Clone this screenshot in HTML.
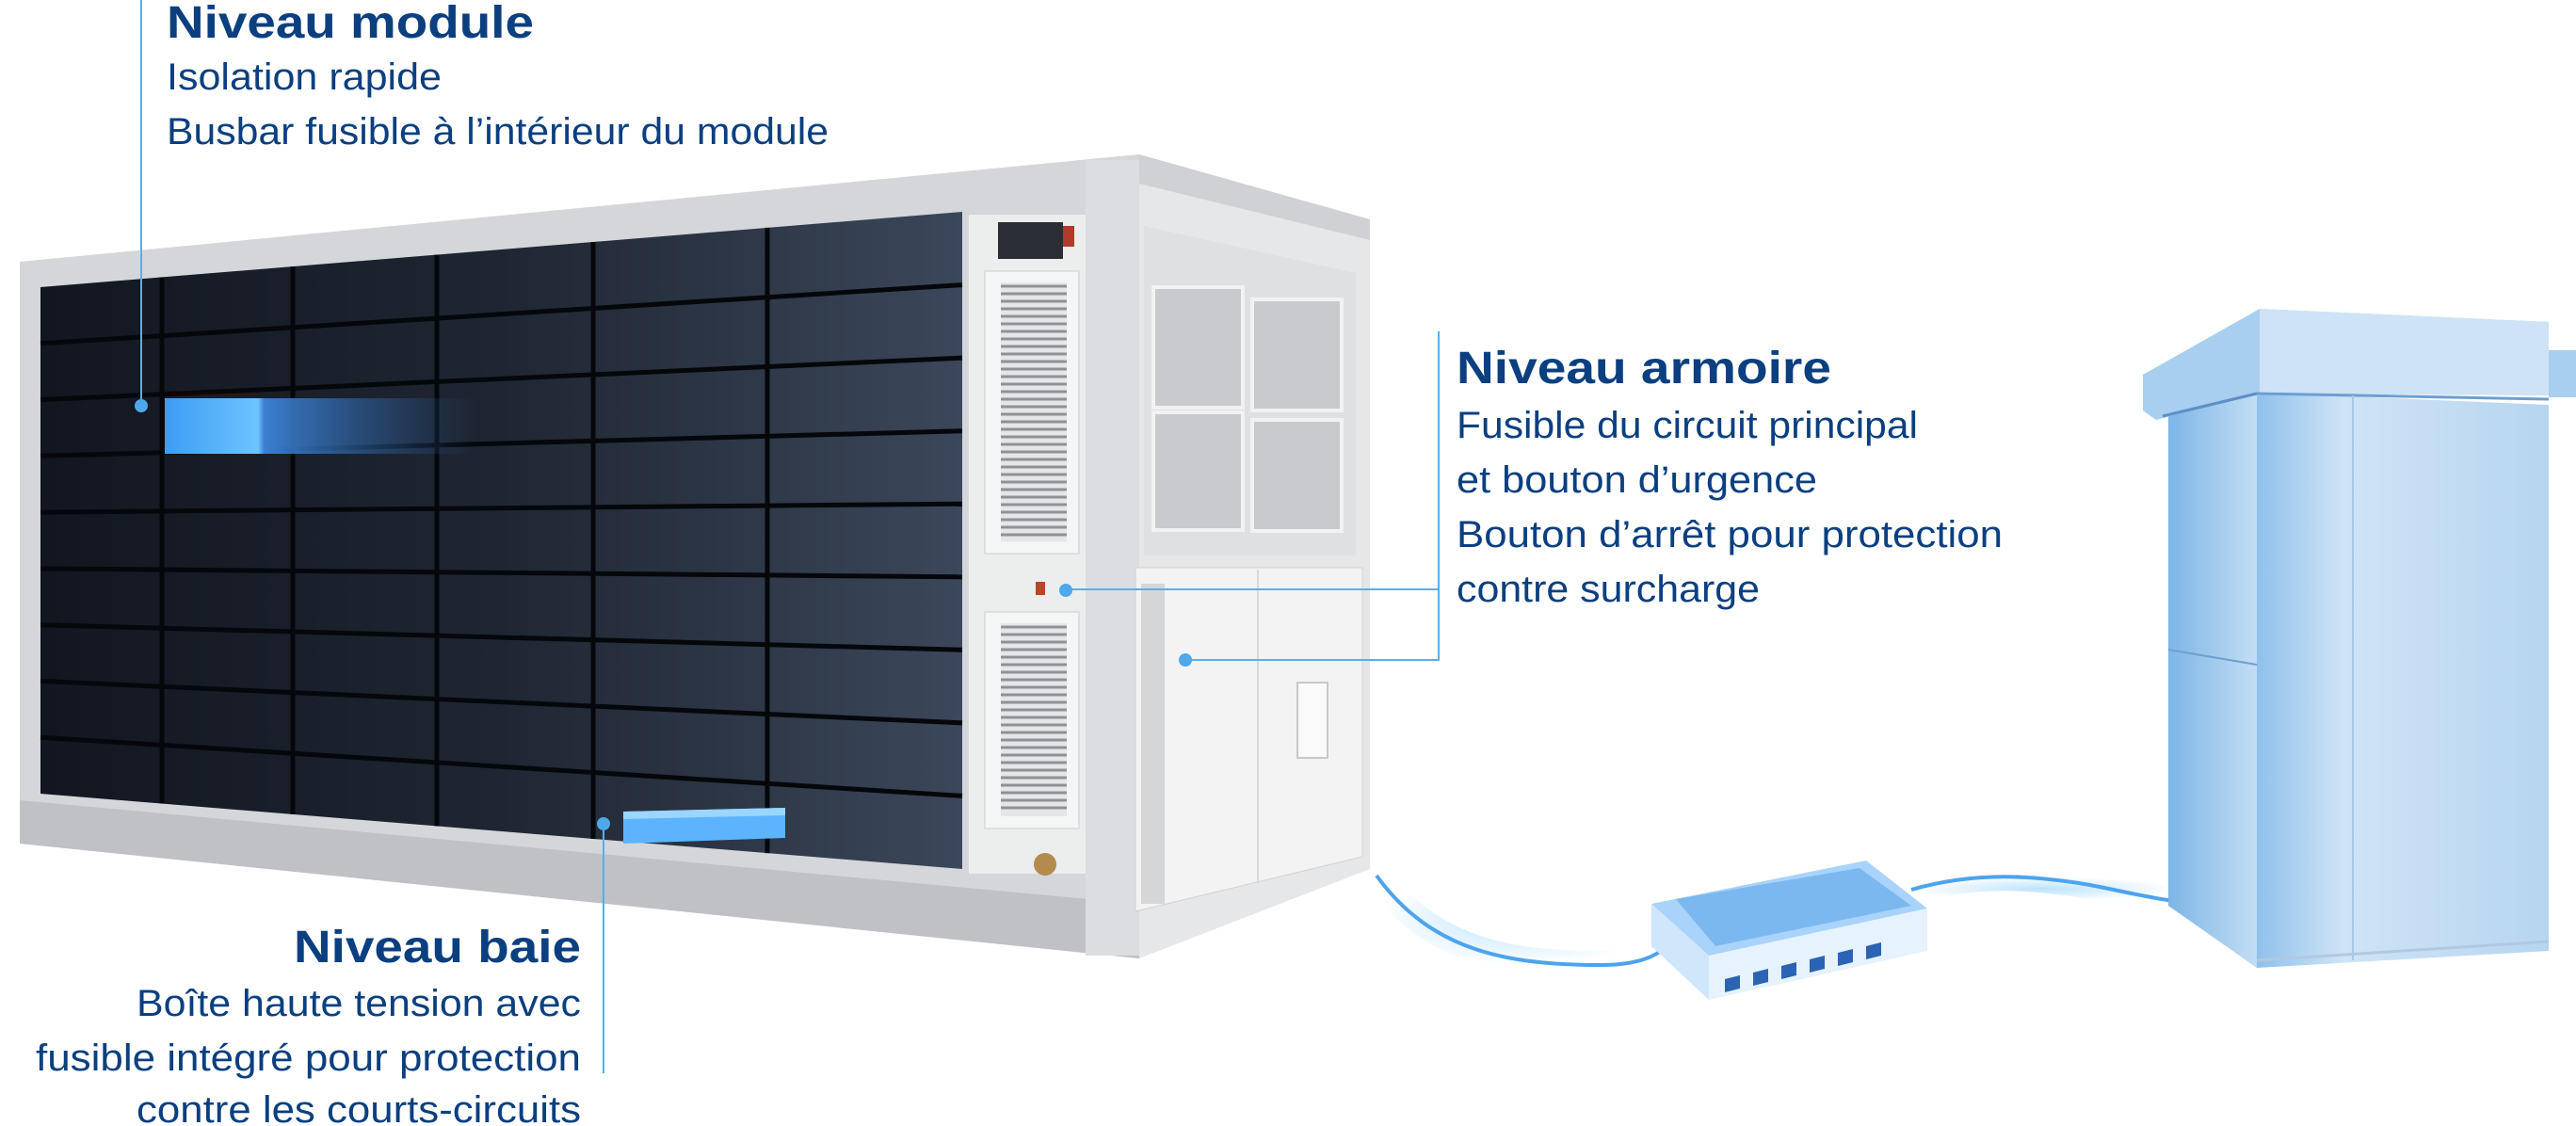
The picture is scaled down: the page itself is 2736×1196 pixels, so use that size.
<!DOCTYPE html>
<html><head><meta charset="utf-8"><style>
html,body{margin:0;padding:0;background:#fff;}
svg{display:block;}
text{font-family:"Liberation Sans",sans-serif;fill:#0b3f80;}
.b{font-weight:bold;}
</style></head><body>
<svg width="2736" height="1196" viewBox="0 0 2736 1196" xmlns="http://www.w3.org/2000/svg">
<defs>
<linearGradient id="pan" x1="0" y1="0" x2="1" y2="0">
<stop offset="0" stop-color="#121620"/><stop offset="0.5" stop-color="#1f2633"/><stop offset="1" stop-color="#3b475a"/>
</linearGradient>
<linearGradient id="hl" x1="0" y1="0" x2="1" y2="0">
<stop offset="0" stop-color="#3d9cf5"/><stop offset="0.3" stop-color="#6ec4ff"/><stop offset="0.32" stop-color="#3a7fd0"/><stop offset="1" stop-color="#2a5a95" stop-opacity="0"/>
</linearGradient>
<linearGradient id="cab" x1="0" y1="0" x2="1" y2="0">
<stop offset="0" stop-color="#8fc1ec"/><stop offset="0.3" stop-color="#cfe4f6"/><stop offset="1" stop-color="#b6d5f0"/>
</linearGradient>
<linearGradient id="cabs" x1="0" y1="0" x2="1" y2="0">
<stop offset="0" stop-color="#7db6e6"/><stop offset="1" stop-color="#c3ddf4"/>
</linearGradient>
<radialGradient id="glow" cx="0.5" cy="0.5" r="0.5">
<stop offset="0" stop-color="#8fd0ff" stop-opacity="0.6"/><stop offset="1" stop-color="#8fd0ff" stop-opacity="0"/>
</radialGradient>
</defs>

<!-- container frame -->
<polygon points="21,278 1210,164 1210,1018 21,896" fill="#d4d6d9"/>
<polygon points="21,850 1210,960 1210,1018 21,896" fill="#bfc1c4"/>
<polygon points="1210,164 1455,233 1455,923 1210,1018" fill="#e6e7e9"/>
<polygon points="1210,164 1455,233 1455,255 1210,195" fill="#cfd1d4"/>
<rect x="1153" y="170" width="57" height="845" fill="#dcdde0"/>
<!-- dark panel -->
<polygon points="43,305 1022,225 1022,923 43,843" fill="url(#pan)"/>
<g stroke="#05070b" stroke-width="5">
<line x1="43" y1="364.8" x2="1022" y2="302.6"/>
<line x1="43" y1="424.6" x2="1022" y2="380.1"/>
<line x1="43" y1="484.3" x2="1022" y2="457.7"/>
<line x1="43" y1="544.1" x2="1022" y2="535.2"/>
<line x1="43" y1="603.9" x2="1022" y2="612.8"/>
<line x1="43" y1="663.7" x2="1022" y2="690.3"/>
<line x1="43" y1="723.4" x2="1022" y2="767.9"/>
<line x1="43" y1="783.2" x2="1022" y2="845.4"/>
<line x1="172" y1="294.5" x2="172" y2="853.5"/>
<line x1="311" y1="283.1" x2="311" y2="864.9"/>
<line x1="464" y1="270.6" x2="464" y2="877.4"/>
<line x1="630" y1="257" x2="630" y2="891"/>
<line x1="815" y1="241.9" x2="815" y2="906.1"/>
</g>
<!-- highlights -->
<rect x="175" y="423" width="330" height="59" fill="url(#hl)"/>
<polygon points="662,862 834,858 834,890 662,896" fill="#5cb4ff"/>
<polygon points="662,862 834,858 834,866 662,870" fill="#9ad6ff"/>
<!-- service column -->
<rect x="1029" y="228" width="124" height="700" fill="#eceded"/>
<rect x="1060" y="236" width="69" height="39" fill="#2a2d33"/>
<rect x="1129" y="240" width="12" height="22" fill="#b23a2a"/>
<rect x="1046" y="288" width="100" height="300" fill="#f4f5f6" stroke="#ccc"/>
<rect x="1063" y="300" width="70" height="275" fill="repeating-linear-gradient(#000,#fff)"/>
<g>
<rect x="1063" y="300" width="70" height="275" fill="#e5e6e8"/>
<path d="M1063 304 H1133 M1063 312 H1133 M1063 320 H1133 M1063 328 H1133 M1063 336 H1133 M1063 344 H1133 M1063 352 H1133 M1063 360 H1133 M1063 368 H1133 M1063 376 H1133 M1063 384 H1133 M1063 392 H1133 M1063 400 H1133 M1063 408 H1133 M1063 416 H1133 M1063 424 H1133 M1063 432 H1133 M1063 440 H1133 M1063 448 H1133 M1063 456 H1133 M1063 464 H1133 M1063 472 H1133 M1063 480 H1133 M1063 488 H1133 M1063 496 H1133 M1063 504 H1133 M1063 512 H1133 M1063 520 H1133 M1063 528 H1133 M1063 536 H1133 M1063 544 H1133 M1063 552 H1133 M1063 560 H1133 M1063 568 H1133" stroke="#8e9195" stroke-width="3"/>
</g>
<rect x="1046" y="650" width="100" height="230" fill="#f4f5f6" stroke="#ccc"/>
<rect x="1063" y="662" width="70" height="205" fill="#e5e6e8"/>
<path d="M1063 666 H1133 M1063 674 H1133 M1063 682 H1133 M1063 690 H1133 M1063 698 H1133 M1063 706 H1133 M1063 714 H1133 M1063 722 H1133 M1063 730 H1133 M1063 738 H1133 M1063 746 H1133 M1063 754 H1133 M1063 762 H1133 M1063 770 H1133 M1063 778 H1133 M1063 786 H1133 M1063 794 H1133 M1063 802 H1133 M1063 810 H1133 M1063 818 H1133 M1063 826 H1133 M1063 834 H1133 M1063 842 H1133 M1063 850 H1133 M1063 858 H1133" stroke="#8e9195" stroke-width="3"/>
<rect x="1100" y="618" width="10" height="14" fill="#b8452a"/>
<circle cx="1110" cy="918" r="12" fill="#b58a4e"/>
<!-- right face details -->
<polygon points="1215,240 1440,290 1440,590 1215,590" fill="#dfe0e2"/>
<rect x="1225" y="305" width="95" height="128" fill="#c9cacd" stroke="#f2f2f2" stroke-width="4"/>
<rect x="1330" y="318" width="95" height="118" fill="#c9cacd" stroke="#f2f2f2" stroke-width="4"/>
<rect x="1225" y="438" width="95" height="125" fill="#c9cacd" stroke="#f2f2f2" stroke-width="4"/>
<rect x="1330" y="446" width="95" height="118" fill="#c9cacd" stroke="#f2f2f2" stroke-width="4"/>
<polygon points="1206,603 1447,603 1447,910 1206,968" fill="#f3f3f4" stroke="#d0d1d3"/>
<rect x="1212" y="620" width="25" height="340" fill="#d5d6d8"/>
<line x1="1336" y1="605" x2="1336" y2="938" stroke="#d8d9db" stroke-width="2"/>
<rect x="1378" y="725" width="32" height="80" fill="#fafafa" stroke="#c7c8ca" stroke-width="2"/>
<!-- cable -->
<path d="M1462,930 C1520,1010 1600,1025 1700,1025 C1740,1025 1760,1015 1770,1005" fill="none" stroke="url(#glow)" stroke-width="30"/>
<path d="M1462,930 C1520,1010 1600,1025 1700,1025 C1740,1025 1760,1015 1770,1005" fill="none" stroke="#4da3ee" stroke-width="4"/>
<path d="M2030,945 C2100,925 2160,930 2220,940 C2260,948 2290,955 2310,957" fill="none" stroke="url(#glow)" stroke-width="30"/>
<path d="M2030,945 C2100,925 2160,930 2220,940 C2260,948 2290,955 2310,957" fill="none" stroke="#4da3ee" stroke-width="4"/>
<!-- router -->
<polygon points="1754,960 1982,914 2047,965 1815,1015" fill="#a9d3fa"/>
<polygon points="1780,955 1975,922 2030,962 1822,1005" fill="#7cb8f0"/>
<polygon points="1754,960 1815,1015 1815,1062 1754,1005" fill="#cfe6fb"/>
<polygon points="1815,1015 2047,965 2047,1010 1815,1062" fill="#e6f2fd"/>
<g fill="#2b63b5">
<polygon points="1832,1040 1848,1036 1848,1050 1832,1054"/>
<polygon points="1862,1033 1878,1029 1878,1043 1862,1047"/>
<polygon points="1892,1026 1908,1022 1908,1036 1892,1040"/>
<polygon points="1922,1019 1938,1015 1938,1029 1922,1033"/>
<polygon points="1952,1012 1968,1008 1968,1022 1952,1026"/>
<polygon points="1982,1005 1998,1001 1998,1015 1982,1019"/>
</g>
<!-- cabinet -->
<polygon points="2303,442 2397,417 2397,1028 2303,962" fill="url(#cabs)"/>
<polygon points="2397,417 2707,430 2707,1010 2397,1028" fill="url(#cab)"/>
<polygon points="2276,398 2400,328 2707,342 2707,420 2397,418 2290,446 2276,436" fill="#a8cff0"/>
<polygon points="2400,328 2707,342 2707,420 2400,418" fill="#cfe3f6"/>
<rect x="2707" y="372" width="29" height="50" fill="#a9cfee"/>
<line x1="2297" y1="442" x2="2397" y2="418" stroke="#5d8fc4" stroke-width="3"/>
<line x1="2397" y1="418" x2="2707" y2="424" stroke="#6d9fd0" stroke-width="3"/>
<line x1="2499" y1="420" x2="2499" y2="1020" stroke="#a8c8e6" stroke-width="2"/>
<line x1="2303" y1="690" x2="2397" y2="706" stroke="#6f9ed0" stroke-width="2"/>
<line x1="2397" y1="1020" x2="2707" y2="1000" stroke="#b0c9e0" stroke-width="3"/>

<!-- callout lines -->
<g stroke="#5aaeea" stroke-width="2" fill="none">
<line x1="150" y1="0" x2="150" y2="431"/>
<line x1="641" y1="875" x2="641" y2="1140"/>
<polyline points="1132,626 1528,626 1528,352"/>
<polyline points="1259,701 1528,701 1528,626"/>
</g>
<g fill="#4ea8ec">
<circle cx="150" cy="431" r="7"/>
<circle cx="641" cy="875" r="7"/>
<circle cx="1132" cy="627" r="7"/>
<circle cx="1259" cy="701" r="7"/>
</g>

<!-- text -->
<text class="b" x="177" y="40" font-size="48" textLength="390" lengthAdjust="spacingAndGlyphs">Niveau module</text>
<text x="177" y="95" font-size="40" textLength="292" lengthAdjust="spacingAndGlyphs">Isolation rapide</text>
<text x="177" y="153" font-size="40" textLength="703" lengthAdjust="spacingAndGlyphs">Busbar fusible à l’intérieur du module</text>

<text class="b" x="1547" y="407" font-size="48" textLength="398" lengthAdjust="spacingAndGlyphs">Niveau armoire</text>
<text x="1547" y="465" font-size="40" textLength="490" lengthAdjust="spacingAndGlyphs">Fusible du circuit principal</text>
<text x="1547" y="523" font-size="40" textLength="383" lengthAdjust="spacingAndGlyphs">et bouton d’urgence</text>
<text x="1547" y="581" font-size="40" textLength="580" lengthAdjust="spacingAndGlyphs">Bouton d’arrêt pour protection</text>
<text x="1547" y="639" font-size="40" textLength="322" lengthAdjust="spacingAndGlyphs">contre surcharge</text>

<text class="b" x="617" y="1022" font-size="48" text-anchor="end" textLength="305" lengthAdjust="spacingAndGlyphs">Niveau baie</text>
<text x="617" y="1079" font-size="40" text-anchor="end" textLength="472" lengthAdjust="spacingAndGlyphs">Boîte haute tension avec</text>
<text x="617" y="1137" font-size="40" text-anchor="end" textLength="579" lengthAdjust="spacingAndGlyphs">fusible intégré pour protection</text>
<text x="617" y="1192" font-size="40" text-anchor="end" textLength="472" lengthAdjust="spacingAndGlyphs">contre les courts-circuits</text>
</svg>
</body></html>
